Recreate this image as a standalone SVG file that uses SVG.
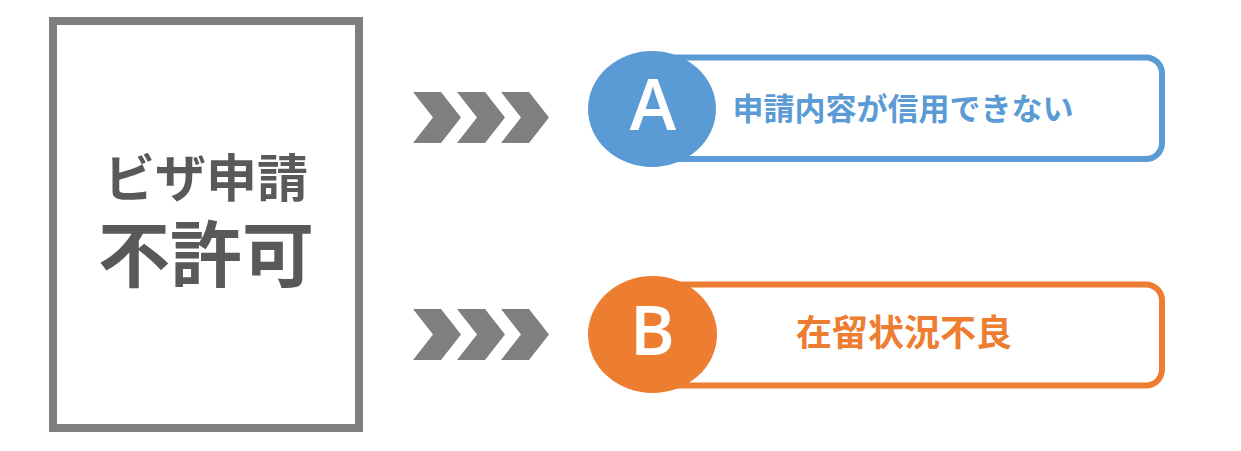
<svg xmlns="http://www.w3.org/2000/svg" width="1241" height="451" viewBox="0 0 1241 451">
<style>
.jp{font-family:"Noto Sans CJK JP","Noto Sans",sans-serif;font-weight:bold;text-anchor:middle}
.lat{font-family:"Open Sans","Noto Sans",sans-serif;font-weight:600;text-anchor:middle;fill:#ffffff}
.chev{fill:#7f7f7f}
</style>
<defs>
<path id="chev" d="M0,0 H28 L48,25.5 L28,51 H0 L20,25.5 Z"/>
</defs>
<rect width="1241" height="451" fill="#ffffff"/>
<g id="refusal">
<rect x="53" y="21" width="306" height="407" fill="#ffffff" stroke="#7f7f7f" stroke-width="8"/>
<text class="jp" x="206" y="197" font-size="51" fill="#595959">ビザ申請</text>
<text class="jp" x="206" y="281" font-size="72" fill="#595959">不許可</text>
</g>
<g id="connectors">
<g class="chev" transform="translate(413,92)"><use href="#chev"/><use href="#chev" x="44"/><use href="#chev" x="88"/></g>
<g class="chev" transform="translate(413,309)"><use href="#chev"/><use href="#chev" x="44"/><use href="#chev" x="88"/></g>
</g>
<g id="reasonA">
<rect x="650" y="57.5" width="512" height="101.5" rx="16" fill="#ffffff" stroke="#5b9bd5" stroke-width="6"/>
<ellipse cx="652" cy="109" rx="64" ry="58" fill="#5b9bd5"/>
<text class="lat" x="653" y="130" font-size="70">A</text>
<text class="jp" x="903" y="120" font-size="31" fill="#5b9bd5">申請内容が信用できない</text>
</g>
<g id="reasonB">
<rect x="650" y="284.5" width="512" height="101" rx="16" fill="#ffffff" stroke="#ed7d31" stroke-width="6"/>
<ellipse cx="652.5" cy="334.5" rx="64.5" ry="58.5" fill="#ed7d31"/>
<text class="lat" x="652.5" y="355" font-size="68">B</text>
<text class="jp" x="904" y="346" font-size="36" fill="#ed7d31">在留状況不良</text>
</g>
</svg>
